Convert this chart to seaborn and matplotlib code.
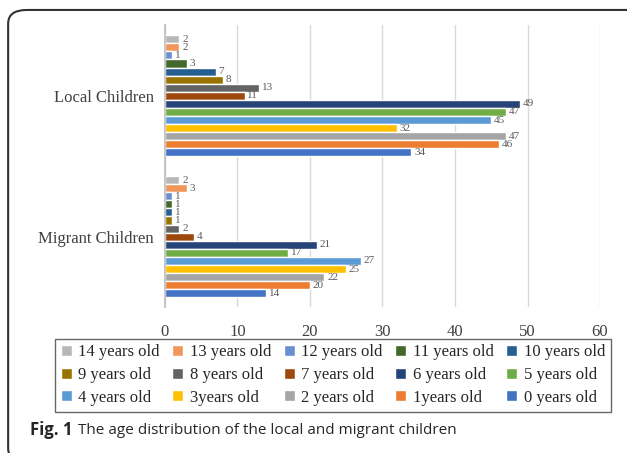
"""Age distribution of local and migrant children (Fig. 1)."""

import matplotlib.pyplot as plt
import pandas as pd
import seaborn as sns
from matplotlib.patches import FancyBboxPatch, Patch

sns.set_theme(style="whitegrid")
plt.rcParams["font.family"] = ["Liberation Serif", "DejaVu Serif"]

groups = ["Local Children", "Migrant Children"]
ages = ["0 years old", "1years old", "2 years old", "3years old", "4 years old",
        "5 years old", "6 years old", "7 years old", "8 years old", "9 years old",
        "10 years old", "11 years old", "12 years old", "13 years old", "14 years old"]
local_counts = [34, 46, 47, 32, 45, 47, 49, 11, 13, 8, 7, 3, 1, 2, 2]
migrant_counts = [14, 20, 22, 25, 27, 17, 21, 4, 2, 1, 1, 1, 1, 3, 2]
colors = ["#4472C4", "#ED7D31", "#A5A5A5", "#FFC000", "#5B9BD5",
          "#70AD47", "#264478", "#9E480E", "#636363", "#997300",
          "#255E91", "#43682B", "#698ED0", "#F1975A", "#B7B7B7"]

df = pd.DataFrame({
    "group": [groups[0]] * len(ages) + [groups[1]] * len(ages),
    "age": ages * 2,
    "count": local_counts + migrant_counts,
})
palette = dict(zip(ages, colors))
hue_order = ages[::-1]

fig = plt.figure(figsize=(6.27, 4.53), dpi=100)
ax = fig.add_axes([0.263, 0.322, 0.694, 0.622])
sns.barplot(data=df, y="group", x="count", hue="age", hue_order=hue_order,
            order=groups, palette=palette, orient="h", width=0.86,
            saturation=1, legend=False, ax=ax)

for cont in ax.containers:
    ax.bar_label(cont, padding=2, fontsize=8, color="#595959")

ax.set_xlim(0, 60)
ax.set_xticks(range(0, 61, 10))
ax.set_xlabel("")
ax.set_ylabel("")
ax.grid(axis="y", visible=False)
ax.grid(axis="x", color="#d9d9d9", linewidth=1)
for side in ["top", "right", "bottom"]:
    ax.spines[side].set_visible(False)
ax.spines["left"].set_color("#bfbfbf")
ax.tick_params(axis="x", labelsize=12, colors="#404040", pad=12, length=0)
ax.tick_params(axis="y", labelsize=12, colors="#404040", pad=8, length=0)

# legend laid out row by row like the original
handles = [Patch(facecolor=palette[a]) for a in hue_order]
n_rows, n_cols = 3, 5
order = [r * n_cols + c for c in range(n_cols) for r in range(n_rows)]
fig.legend([handles[i] for i in order], [hue_order[i] for i in order],
           ncol=n_cols, loc="center", bbox_to_anchor=(0.531, 0.172),
           fontsize=12, frameon=True, fancybox=False, edgecolor="#404040",
           handlelength=0.65, handleheight=0.65, handletextpad=0.4,
           columnspacing=0.75, labelspacing=0.4, borderpad=0.35)

fig.patches.append(FancyBboxPatch((0.013, -0.02), 1.05, 0.998, transform=fig.transFigure,
                                  boxstyle="round,pad=0,rounding_size=0.03",
                                  facecolor="none", edgecolor="#333333", linewidth=1.5))
fig_lbl = fig.text(0.048, 0.05, "Fig. 1", fontsize=12, fontweight="bold",
                   family="Open Sans", va="center")
fig.canvas.draw()
bb = fig_lbl.get_window_extent().transformed(fig.transFigure.inverted())
fig.text(bb.x1 + 0.009, 0.05, "The age distribution of the local and migrant children",
         fontsize=11, family="Open Sans", va="center")

fig.savefig("out.png", dpi=100)
